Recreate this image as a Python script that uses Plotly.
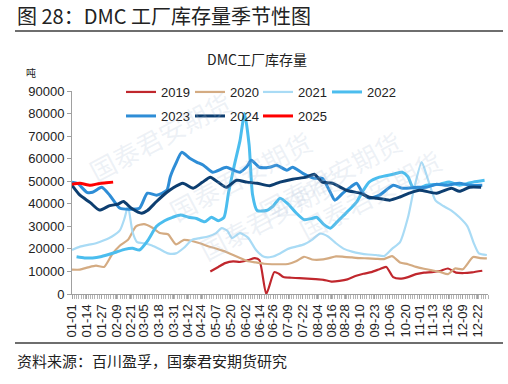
import plotly.graph_objects as go
import pandas as pd

W, H = 508, 384
L, R, T, B = 72, 488, 91, 294  # plot area in px

tick_labels = ["01-01", "01-14", "01-27", "02-09", "02-21", "03-05", "03-18", "03-31",
               "04-12", "04-24", "05-07", "05-20", "06-02", "06-14", "06-26", "07-09",
               "07-22", "08-04", "08-16", "08-28", "09-10", "09-23", "10-06", "10-20",
               "11-01", "11-13", "11-26", "12-09", "12-22"]

days_2019 = [121, 128, 134, 141, 147, 154, 160, 164, 170, 177, 181, 185, 192, 199, 206, 213, 220,
             227, 234, 241, 248, 255, 262, 269, 275, 281, 287, 294, 301, 308, 315, 322, 329,
             336, 343, 350, 359]
vals_2019 = [10000, 12000, 13700, 14500, 14200, 15000, 15900, 15000, 0, 9700, 9000, 7500, 7200,
             7000, 6800, 6600, 6300, 5500, 5800, 6500, 8000, 9000, 9700, 11000, 12000, 7500,
             6800, 7500, 8800, 9500, 9700, 10200, 11300, 9500, 9300, 9600, 10300]

days_2020 = [0, 7, 14, 21, 28, 35, 42, 49, 56, 63, 70, 77, 84, 91, 98, 105, 112, 119, 126, 133,
             140, 147, 154, 161, 168, 175, 182, 189, 196, 203, 210, 217, 224, 231, 238, 245, 252,
             259, 266, 273, 280, 287, 294, 301, 308, 315, 322, 329, 335, 342, 351, 357, 363]
vals_2020 = [10800, 10800, 11800, 12600, 12000, 17500, 21500, 24000, 30000, 31000, 29500, 27000,
             26500, 22000, 24000, 23500, 22500, 21200, 20200, 19000, 17500, 16000, 14500, 14000,
             13400, 13200, 13200, 13300, 14500, 16500, 15300, 15200, 15800, 16700, 16500, 16200,
             15900, 15800, 15600, 15500, 16800, 14000, 13200, 12000, 11200, 10500, 9800, 8800,
             11300, 11000, 16400, 15900, 15800]

days_2021 = [0, 7, 14, 21, 28, 35, 42, 46, 49, 53, 57, 63, 70, 77, 84, 91, 98, 105, 112, 119,
             126, 131, 136, 140, 147, 154, 161, 168, 175, 182, 189, 196, 203, 210, 217, 224, 231,
             238, 245, 252, 259, 266, 273, 280, 287, 294, 299, 306, 311, 318, 325, 332, 339,
             346, 352, 356, 363]
vals_2021 = [19500, 21000, 21800, 22500, 23800, 25500, 28300, 33600, 39000, 27500, 23000, 22500,
             21500, 19800, 18000, 18000, 20500, 24000, 24800, 25500, 27000, 29200, 28000, 24800,
             27000, 25000, 19500, 16500, 16500, 18000, 20000, 21000, 22000, 24000, 26800, 25500,
             22500, 20000, 18800, 18000, 17500, 17300, 16800, 20000, 23000, 34000, 46000,
             58500, 51500, 41500, 39000, 37000, 34000, 30000, 22000, 18000, 17300]

days_2022 = [4, 11, 18, 25, 32, 39, 46, 53, 59, 66, 74, 81, 88, 95, 102, 109, 116, 122, 128, 133,
             137, 142, 147, 151, 155, 158, 162, 170, 176, 182, 189, 196, 203, 210, 214, 220,
             226, 232, 238, 244, 249, 255, 260, 269, 281, 289, 294, 298, 304, 310, 322, 330, 339,
             346, 351, 361]
vals_2022 = [16500, 16000, 16000, 16500, 17500, 18600, 19800, 20300, 19500, 23500, 30000, 32500,
             34000, 35000, 34000, 33500, 32000, 34000, 32500, 34000, 45000, 57000, 68000, 80000,
             66000, 44000, 37000, 37000, 39000, 42500, 40000, 36000, 33000, 33500, 34000,
             31000, 29200, 32000, 35000, 38000, 40700, 46000, 49600, 51800, 53100, 54000, 52000,
             47500, 47000, 48200, 48700, 49600, 48200, 49000, 49600, 50400]

days_2023 = [0, 5, 13, 18, 26, 33, 42, 51, 59, 66, 74, 83, 86, 91, 96, 103, 109, 115, 123, 135,
             141, 147, 153, 157, 164, 173, 179, 188, 193, 202, 212, 219, 226, 230, 237, 244, 249,
             254, 260, 269, 281, 289, 302, 310, 319, 328, 339, 348, 359]
vals_2023 = [49600, 49000, 45100, 45100, 47300, 43800, 38000, 37600, 38000, 44700, 43800, 46000,
             52000, 58000, 62800, 60200, 58500, 57100, 54000, 56200, 55000, 54000, 56500, 59300,
             56200, 56200, 57100, 54900, 56200, 53500, 51300, 51300, 45100, 41600, 44700, 47500,
             49100, 45100, 42500, 43800, 48200, 46900, 47300, 47300, 48700, 48200, 49100, 48200,
             48200]

days_2024 = [0, 7, 16, 24, 33, 40, 45, 52, 61, 66, 74, 83, 88, 97, 106, 114, 121, 128, 135, 144,
             153, 162, 173, 182, 193, 205, 212, 219, 228, 240, 252, 260, 267, 278, 287, 295, 304,
             319, 332, 339, 348, 358]
vals_2024 = [48200, 43800, 40500, 37200, 39200, 39800, 41000, 38000, 35800, 37000, 41000, 45100,
             46900, 49100, 46900, 49500, 51800, 49500, 47300, 50400, 49600, 49100, 48000, 49600,
             50900, 51800, 53100, 49600, 49100, 46000, 44700, 42900, 42500, 41600, 43000, 44700,
             46000, 44700, 46900, 45500, 47300, 47300]

days_2025 = [0, 7, 16, 24, 30, 36]
vals_2025 = [48700, 49100, 48200, 49000, 49300, 49600]

series = [
    ("2019", days_2019, vals_2019, "#C0272D", 2.2),
    ("2020", days_2020, vals_2020, "#D4AB82", 2.2),
    ("2021", days_2021, vals_2021, "#A9DBF5", 2.2),
    ("2022", days_2022, vals_2022, "#4BBDEE", 3.0),
    ("2023", days_2023, vals_2023, "#2E8DD6", 3.0),
    ("2024", days_2024, vals_2024, "#0D3E70", 3.0),
    ("2025", days_2025, vals_2025, "#FF0000", 3.0),
]

# legend entry anchor positions (px): four per row, two rows
legend_px = [(121, 92), (190, 92), (258, 92), (327, 92),
             (121, 116), (190, 116), (258, 116)]


def doy(md):
    return int(pd.Timestamp("2019-" + md).dayofyear) - 1


tick_vals = [doy(t) for t in tick_labels]


def px_x(px):
    return (px - L) / (R - L)


def px_y(py):
    return (B - py) / (B - T)


font_main = "Liberation Sans, Arial, sans-serif"
font_cjk = "Noto Sans CJK SC, sans-serif"
legend_font = dict(family=font_main, size=13, color="#222222")

fig = go.Figure()
legend_layout = {}
for i, (name, xs, ys, color, width) in enumerate(series):
    key = "legend" if i == 0 else f"legend{i + 1}"
    fig.add_trace(go.Scatter(
        x=xs, y=ys, name=name, mode="lines",
        line=dict(color=color, width=width, shape="spline", smoothing=0.6),
        legend=key,
    ))
    lx, ly = legend_px[i]
    legend_layout[key] = dict(orientation="h", x=px_x(lx), y=px_y(ly), xanchor="left",
                              yanchor="middle", bgcolor="rgba(0,0,0,0)", font=legend_font,
                              itemwidth=30)

wm = "rgba(175,192,215,0.22)"
annotations = [
    dict(text="图 28：DMC 工厂库存量季节性图", x=px_x(15), y=px_y(16), xref="paper", yref="paper",
         xanchor="left", yanchor="middle", showarrow=False,
         font=dict(family=font_cjk, size=20, color="#222222")),
    dict(text="DMC工厂库存量", x=px_x(257), y=px_y(59), xref="paper", yref="paper",
         xanchor="center", yanchor="middle", showarrow=False,
         font=dict(family=font_cjk, size=14, color="#222222")),
    dict(text="吨", x=px_x(24), y=px_y(72), xref="paper", yref="paper",
         xanchor="left", yanchor="middle", showarrow=False,
         font=dict(family=font_cjk, size=10, color="#222222")),
    dict(text="资料来源：百川盈孚，国泰君安期货研究", x=px_x(15), y=px_y(360), xref="paper", yref="paper",
         xanchor="left", yanchor="middle", showarrow=False,
         font=dict(family=font_cjk, size=15, color="#222222")),
]
for (wx, wy) in [(80, 80), (330, 120), (190, 270), (450, 250), (240, 175)]:
    annotations.append(dict(text="国泰君安期货", x=px_x(wx), y=px_y(wy), xref="paper", yref="paper",
                            showarrow=False, textangle=-28,
                            font=dict(family=font_cjk, size=26, color=wm)))

shapes = [
    dict(type="line", xref="paper", yref="paper", x0=px_x(15), x1=px_x(503),
         y0=px_y(31), y1=px_y(31), line=dict(color="#6e6e6e", width=2)),
    dict(type="line", xref="paper", yref="paper", x0=px_x(15), x1=px_x(503),
         y0=px_y(343), y1=px_y(343), line=dict(color="#6e6e6e", width=2)),
]

fig.update_layout(
    width=W, height=H,
    margin=dict(l=L, r=W - R, t=T, b=H - B, pad=0),
    paper_bgcolor="white", plot_bgcolor="white",
    font=dict(family=font_main, size=13, color="#222222"),
    showlegend=True,
    annotations=annotations,
    shapes=shapes,
    xaxis=dict(range=[0, 364], tickmode="array", tickvals=tick_vals, ticktext=tick_labels,
               tickangle=-90, showgrid=False, zeroline=False, showline=True,
               linecolor="#a0a0a0", linewidth=1, ticks="outside", ticklen=4,
               tickcolor="#a0a0a0", tickfont=dict(family=font_main, size=13, color="#222222"),
               minor=dict(tickmode="linear", tick0=0, dtick=2, ticks="outside", ticklen=4,
                          tickcolor="#b5b5b5", tickwidth=1)),
    yaxis=dict(range=[0, 90000], tickmode="array", tickvals=list(range(0, 90001, 10000)),
               tickformat="d", showgrid=False, zeroline=False, showline=True,
               linecolor="#a0a0a0", linewidth=1, ticks="outside", ticklen=4,
               tickcolor="#a0a0a0", tickfont=dict(family=font_main, size=13, color="#222222")),
    **legend_layout,
)

fig.write_html("out.html")
